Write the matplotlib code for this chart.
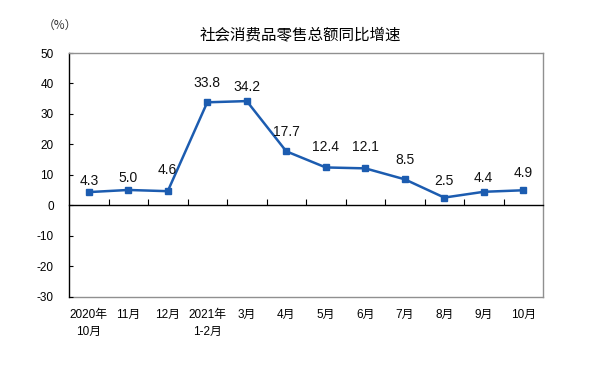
import matplotlib
matplotlib.use("Agg")
import matplotlib.pyplot as plt

plt.rcParams['font.family'] = ['Liberation Sans', 'Noto Sans CJK SC', 'DejaVu Sans']

categories = ["2020年\n10月", "11月", "12月", "2021年\n1-2月", "3月", "4月",
              "5月", "6月", "7月", "8月", "9月", "10月"]
values = [4.3, 5.0, 4.6, 33.8, 34.2, 17.7, 12.4, 12.1, 8.5, 2.5, 4.4, 4.9]
yticks = [50, 40, 30, 20, 10, 0, -10, -20, -30]
title = "社会消费品零售总额同比增速"
unit = "（%）"

# label placement above each point (pixels), a style setting
label_offsets_px = [11, 12, 21, 19, 14, 19, 20, 21, 19, 17, 14, 17]

color = "#1c5cb0"
fig = plt.figure(figsize=(5.93, 3.66), dpi=100)
ax = fig.add_axes([69/593, 1-296.5/366, 474/593, (296.5-53)/366])

x = list(range(len(values)))
ax.plot(x, values, color=color, lw=1.8, marker='s', ms=4.5, zorder=3)
for xi, v, off in zip(x, values, label_offsets_px):
    ax.annotate(f"{v:.1f}", (xi, v), xytext=(0, off * 0.72), textcoords='offset points',
                ha='center', va='center', fontsize=10, color='#111111')

ax.set_xlim(-0.5, len(values) - 0.5)
ax.set_ylim(-30, 50)
ax.set_yticks(yticks)
ax.set_yticklabels([str(t) for t in yticks], fontsize=8.5)
ax.tick_params(axis='y', direction='in', length=3, pad=11, color='black')

# zero line axis with boundary ticks
ax.spines['bottom'].set_position(('data', 0))
ax.spines['bottom'].set_color('black')
ax.spines['bottom'].set_linewidth(1.0)
ax.set_xticks([i + 0.5 for i in range(len(values) - 1)])
ax.set_xticklabels([])
ax.tick_params(axis='x', direction='in', length=4, color='black')

ax.spines['left'].set_color('black')
ax.spines['left'].set_linewidth(1.0)
for s in ['top', 'right']:
    ax.spines[s].set_color('#909090')
    ax.spines[s].set_linewidth(1.0)

sec = ax.secondary_xaxis('bottom')
sec.set_xticks(x)
sec.set_xticklabels(categories, fontsize=8.5, linespacing=1.5, va='top')
sec.tick_params(length=0, pad=9)
sec.spines['bottom'].set_color('#909090')
sec.spines['bottom'].set_linewidth(1.0)

fig.text(300/593, 1-35/366, title, ha='center', va='center', fontsize=11.2)
fig.text(60/593, 1-25/366, unit, ha='center', va='center', fontsize=8.5,
         family=['Noto Sans CJK SC', 'DejaVu Sans'], color='#333333')

fig.savefig("out.png", dpi=100, facecolor='white')
